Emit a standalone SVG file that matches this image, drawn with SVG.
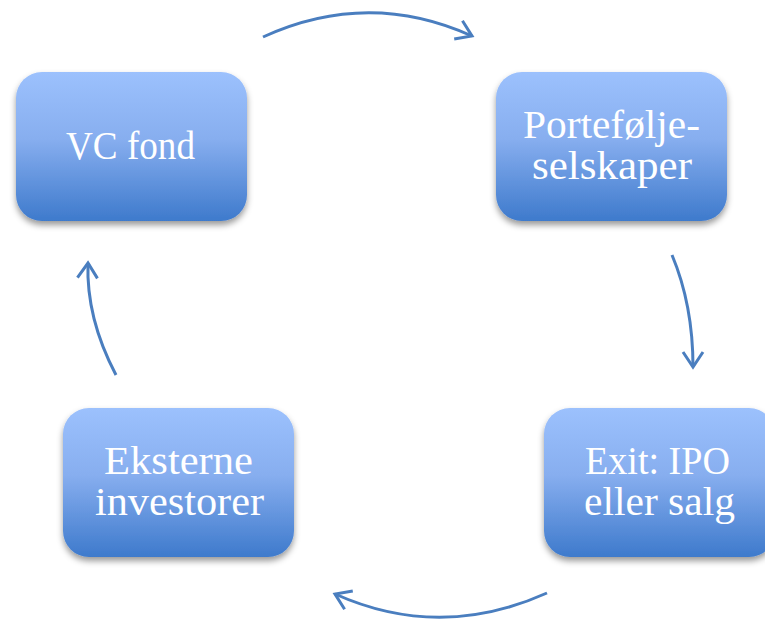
<svg xmlns="http://www.w3.org/2000/svg" width="765" height="619" viewBox="0 0 765 619">
  <defs>
    <linearGradient id="g" x1="0" y1="0" x2="0" y2="1">
      <stop offset="0" stop-color="#9CC1FD"/>
      <stop offset="0.45" stop-color="#87AEEF"/>
      <stop offset="1" stop-color="#3E7ACC"/>
    </linearGradient>
    <filter id="sh" x="-20%" y="-20%" width="140%" height="150%">
      <feDropShadow dx="0" dy="4" stdDeviation="3" flood-color="#000" flood-opacity="0.4"/>
    </filter>
    <marker id="ah" markerUnits="userSpaceOnUse" markerWidth="30" markerHeight="30" viewBox="-20 -15 30 30" refX="0" refY="0" orient="auto">
      <polyline points="-15,-10 0,0 -15,10" fill="none" stroke="#4A7EBF" stroke-width="3" stroke-linecap="butt" stroke-linejoin="miter"/>
    </marker>
    <style>
      .box { fill: url(#g); filter: url(#sh); }
      .lbl { font-family: "Liberation Serif", "Times New Roman", serif; font-size: 39px; fill: #ffffff; text-anchor: middle; }
      .arr { fill: none; stroke: #4A7EBF; stroke-width: 3; marker-end: url(#ah); }
    </style>
  </defs>
  <rect width="765" height="619" fill="#ffffff"/>
  <g id="connectors">
    <path class="arr" d="M263,37 Q368,-11 472,36"/>
    <path class="arr" d="M672,255 Q693,305 693,367"/>
    <path class="arr" d="M547,593 Q440,641 335,594"/>
    <path class="arr" d="M116,375 Q86,318 88,263"/>
  </g>
  <g id="vc-fond">
    <rect class="box" x="16" y="72" width="231" height="149" rx="26" ry="26"/>
    <text class="lbl" x="130.5" y="159" textLength="129" lengthAdjust="spacingAndGlyphs">VC fond</text>
  </g>
  <g id="portefolje">
    <rect class="box" x="496" y="72" width="231" height="149" rx="26" ry="26"/>
    <text class="lbl" x="611.5" y="138" textLength="177" lengthAdjust="spacingAndGlyphs">Portefølje-</text>
    <text class="lbl" x="612" y="179" textLength="160" lengthAdjust="spacingAndGlyphs">selskaper</text>
  </g>
  <g id="exit">
    <rect class="box" x="544" y="408" width="231" height="149" rx="26" ry="26"/>
    <text class="lbl" x="657.5" y="474" textLength="145" lengthAdjust="spacingAndGlyphs">Exit: IPO</text>
    <text class="lbl" x="659.5" y="515" textLength="151" lengthAdjust="spacingAndGlyphs">eller salg</text>
  </g>
  <g id="eksterne">
    <rect class="box" x="63" y="408" width="231" height="149" rx="26" ry="26"/>
    <text class="lbl" x="178.5" y="474" textLength="149" lengthAdjust="spacingAndGlyphs">Eksterne</text>
    <text class="lbl" x="179.5" y="515" textLength="169" lengthAdjust="spacingAndGlyphs">investorer</text>
  </g>
</svg>
